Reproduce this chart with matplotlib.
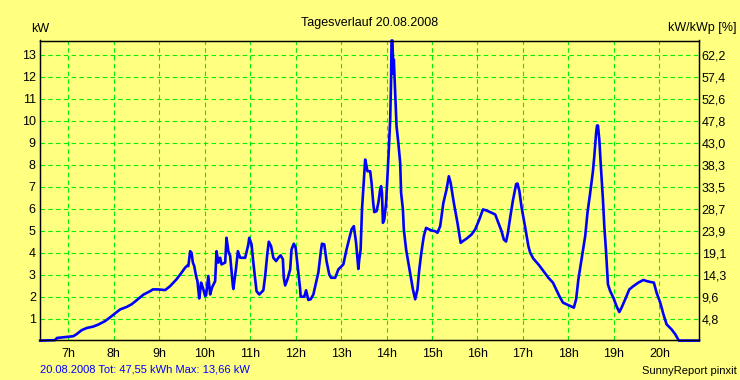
import matplotlib
matplotlib.use("Agg")
import matplotlib.pyplot as plt

# Tagesverlauf 20.08.2008 - Leistung in kW, Zeit in Stunden (dezimal)
hours = [
    6.38, 6.71, 6.75, 6.89, 7.11, 7.18, 7.29, 7.40, 7.55, 7.66, 7.81, 7.92,
    8.03, 8.14, 8.28, 8.39, 8.50, 8.65, 8.80, 8.86, 8.98, 9.13, 9.24, 9.38,
    9.49, 9.57, 9.62, 9.64, 9.68, 9.71, 9.74, 9.77, 9.81, 9.84, 9.88, 9.90,
    9.92, 9.96, 10.01, 10.03, 10.08, 10.12, 10.16, 10.23, 10.26, 10.30, 10.34,
    10.37, 10.45, 10.48, 10.52, 10.56, 10.62, 10.63, 10.69, 10.73, 10.78,
    10.89, 10.96, 10.98, 11.03, 11.07, 11.14, 11.20, 11.29, 11.33, 11.38,
    11.41, 11.46, 11.51, 11.57, 11.62, 11.67, 11.72, 11.74, 11.77, 11.82,
    11.88, 11.91, 11.96, 12.00, 12.04, 12.10, 12.11, 12.19, 12.23, 12.28,
    12.33, 12.39, 12.45, 12.50, 12.56, 12.58, 12.63, 12.68, 12.74, 12.78,
    12.87, 12.94, 13.05, 13.12, 13.23, 13.28, 13.33, 13.38, 13.40, 13.43,
    13.46, 13.49, 13.51, 13.53, 13.56, 13.58, 13.64, 13.67, 13.71, 13.73,
    13.78, 13.82, 13.86, 13.88, 13.90, 13.92, 13.95, 13.99, 14.02, 14.05,
    14.08, 14.10, 14.11, 14.13, 14.15, 14.16, 14.19, 14.22, 14.26, 14.30,
    14.32, 14.36, 14.38, 14.43, 14.48, 14.53, 14.58, 14.63, 14.68, 14.72,
    14.77, 14.82, 14.87, 14.92, 14.99, 15.07, 15.12, 15.18, 15.25, 15.32,
    15.37, 15.41, 15.48, 15.56, 15.63, 15.68, 15.76, 15.87, 15.95, 16.04,
    16.12, 16.20, 16.31, 16.39, 16.46, 16.53, 16.58, 16.63, 16.67, 16.72,
    16.78, 16.85, 16.88, 16.92, 16.97, 17.05, 17.12, 17.16, 17.23, 17.34,
    17.45, 17.56, 17.66, 17.73, 17.80, 17.88, 17.96, 18.07, 18.12, 18.17,
    18.22, 18.29, 18.37, 18.42, 18.48, 18.54, 18.57, 18.61, 18.63, 18.65,
    18.68, 18.71, 18.76, 18.79, 18.83, 18.87, 18.92, 18.99, 19.06, 19.12,
    19.17, 19.25, 19.34, 19.43, 19.54, 19.65, 19.72, 19.80, 19.88, 19.94,
    20.02, 20.09, 20.16, 20.27, 20.35, 20.43, 20.87,
]
power_kw = [
    0.0, 0.02, 0.12, 0.15, 0.20, 0.29, 0.47, 0.57, 0.64, 0.73, 0.89, 1.06,
    1.24, 1.42, 1.53, 1.65, 1.83, 2.09, 2.25, 2.33, 2.33, 2.30, 2.48, 2.79,
    3.09, 3.32, 3.42, 3.39, 4.07, 4.00, 3.55, 3.39, 2.94, 2.71, 1.92, 2.25,
    2.64, 2.41, 2.03, 2.06, 2.94, 2.10, 2.41, 2.71, 4.07, 3.55, 3.77,
    3.47, 3.55, 4.68, 4.07, 3.85, 2.48, 2.35, 3.30, 4.07, 3.77,
    3.77, 4.38, 4.68, 4.38, 3.55, 2.25, 2.10, 2.29, 2.94, 4.00,
    4.50, 4.30, 3.77, 3.62, 3.77, 3.88, 3.70, 2.86, 2.51, 2.79,
    3.24, 4.15, 4.41, 4.23, 3.47, 2.33, 2.00, 2.00, 2.29, 1.85,
    1.88, 2.10, 2.64, 3.10, 4.15, 4.41, 4.38, 3.62, 3.01, 2.86,
    2.86, 3.24, 3.47, 4.15, 5.06, 5.21, 4.45, 3.26, 3.70, 4.15,
    5.97, 6.97, 7.58, 8.24, 7.94, 7.71, 7.71, 7.18, 6.20, 5.85,
    5.89, 6.27, 6.88, 7.03, 6.73, 5.36, 5.51, 6.27, 7.48, 8.70,
    10.06, 11.88, 13.66, 13.66, 12.15, 12.79, 11.27, 9.75, 8.99, 8.08,
    6.73, 5.97, 5.06, 4.15, 3.55, 2.94, 2.33, 1.88, 2.33, 3.24,
    4.07, 4.76, 5.13, 5.08, 5.01, 4.98, 4.91, 5.21, 6.27, 6.88,
    7.48, 7.18, 6.27, 5.36, 4.45, 4.53, 4.64, 4.83, 5.06, 5.51,
    5.97, 5.92, 5.82, 5.74, 5.36, 4.98, 4.60, 4.51, 4.91, 5.61,
    6.38, 7.12, 7.15, 6.83, 6.07, 5.15, 4.30, 4.00, 3.73, 3.47,
    3.17, 2.86, 2.64, 2.33, 2.03, 1.73, 1.65, 1.55, 1.50, 1.88,
    2.79, 3.70, 4.76, 5.82, 6.73, 7.71, 8.39, 9.45, 9.79, 9.79,
    9.15, 8.08, 6.42, 5.21, 4.00, 2.56, 2.25, 1.95, 1.56, 1.30,
    1.50, 1.88, 2.33, 2.48, 2.64, 2.76, 2.71, 2.67, 2.64, 2.18,
    1.73, 1.20, 0.74, 0.51, 0.29, 0.0, 0.0,
]

hour_ticks = list(range(7, 21))
hour_labels = [f"{h}h" for h in hour_ticks]
kw_ticks = list(range(1, 14))
kwp_labels = ["4,8", "9,6", "14,3", "19,1", "23,9", "28,7", "33,5",
              "38,3", "43,0", "47,8", "52,6", "57,4", "62,2"]

bg = "#ffff80"
grid_green = "#00f000"
plt.rcParams["font.family"] = ["Liberation Sans", "DejaVu Sans"]

fig = plt.figure(figsize=(7.4, 3.8), dpi=100, facecolor=bg)
ax = fig.add_axes([40 / 740, 1 - 339.5 / 380, 659 / 740, 299 / 380])
ax.set_facecolor(bg)

ax.plot(hours, power_kw, color="#0000ff", lw=1.9, clip_on=False, zorder=3)

ax.set_xlim(6.377, 20.873)
ax.set_ylim(0.05, 13.66)
ax.set_xticks(hour_ticks)
ax.set_xticklabels(hour_labels)
ax.set_yticks(kw_ticks)
ax.tick_params(axis="both", length=0, labelsize=9)
ax.tick_params(axis="x", pad=6)
ax.tick_params(axis="y", pad=3)
ax.grid(True, color=grid_green, linestyle=(0, (4, 3)), lw=0.8)
ax.set_axisbelow(True)
for s in ax.spines.values():
    s.set_linewidth(0.9)
    s.set_color("black")

ax2 = ax.twinx()
ax2.set_ylim(ax.get_ylim())
ax2.set_yticks(kw_ticks)
ax2.set_yticklabels(kwp_labels)
ax2.tick_params(axis="y", length=0, labelsize=9, pad=2)
for s in ax2.spines.values():
    s.set_linewidth(0.9)

fig.text(370 / 740, 1 - 26 / 380, "Tagesverlauf 20.08.2008", ha="center",
         va="baseline", fontsize=9)
fig.text(31 / 740, 1 - 32 / 380, "kW", ha="left", va="baseline", fontsize=9)
fig.text(737 / 740, 1 - 31 / 380, "kW/kWp [%]", ha="right", va="baseline",
         fontsize=9)
fig.text(40 / 740, 1 - 372.5 / 380, "20.08.2008 Tot: 47,55 kWh Max: 13,66 kW",
         ha="left", va="baseline", fontsize=8, color="#0000ff")
fig.text(737 / 740, 1 - 374 / 380, "SunnyReport pinxit", ha="right",
         va="baseline", fontsize=8)

fig.savefig("out.png", dpi=100, facecolor=bg)
